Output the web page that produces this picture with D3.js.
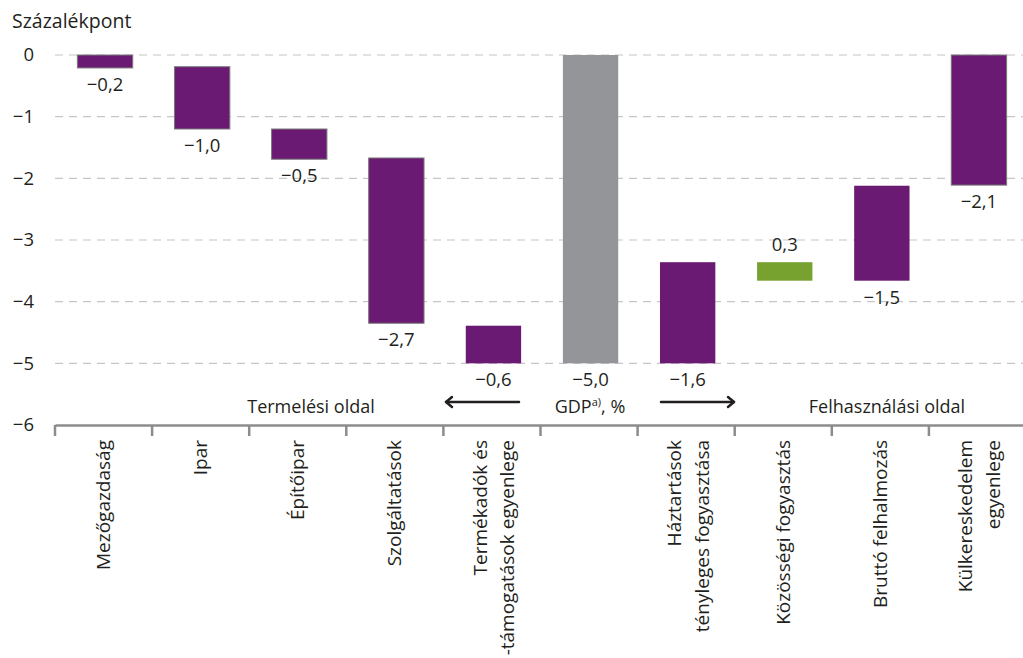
<!DOCTYPE html>
<html>
<head>
<meta charset="utf-8">
<script src="https://cdn.jsdelivr.net/npm/d3@7/dist/d3.min.js"></script>
<style>
  html, body { margin: 0; padding: 0; background: #fff; }
  svg { display: block; }
  text { font-family: "Open Sans", "DejaVu Sans", sans-serif; fill: #231f20; }
</style>
</head>
<body>
<svg id="chart" width="1023" height="658"></svg>
<script>
// ---- data ----
const categories = [
  ["Mezőgazdaság"],
  ["Ipar"],
  ["Építőipar"],
  ["Szolgáltatások"],
  ["Termékadók és", "-támogatások egyenlege"],
  [""],
  ["Háztartások", "tényleges fogyasztása"],
  ["Közösségi fogyasztás"],
  ["Bruttó felhalmozás"],
  ["Külkereskedelem", "egyenlege"]
];
const values    = [-0.2, -1.0, -0.5, -2.7, -0.6, -5.0, -1.6, 0.3, -1.5, -2.1];
const barTop    = [0, -0.19, -1.2, -1.67, -4.39, 0, -3.36, -3.36, -2.12, 0];
const barBottom = [-0.21, -1.2, -1.69, -4.35, -5.0, -5.0, -5.0, -3.66, -3.66, -2.11];
const kinds     = ["neg", "neg", "neg", "neg", "neg", "total", "neg", "pos", "neg", "neg"];
const yTicks    = [0, -1, -2, -3, -4, -5, -6];
const yUnit     = "Százalékpont";
const sideLeft  = "Termelési oldal";
const sideRight = "Felhasználási oldal";

// ---- styles ----
const colors = { neg: "#6a1a73", total: "#939598", pos: "#77a22f" };
const outlined = [true, true, true, true, false, false, false, false, false, true];
const fmt = v => (v < 0 ? "\u2212" : "") + Math.abs(v).toFixed(1).replace(".", ",");

const svg = d3.select("#chart");
const x = d3.scaleBand().domain(d3.range(categories.length)).range([55, 1026]).paddingInner(0.43).paddingOuter(0.215);
const xb = d3.scaleBand().domain(d3.range(categories.length)).range([55, 1026]);
const y = d3.scaleLinear().domain([-6, 0]).range([425, 55]);

// unit label
svg.append("text").attr("x", 12).attr("y", 28).attr("font-size", 19.5).text(yUnit);

// gridlines
svg.append("g").selectAll("line").data(yTicks.filter(t => t > -6)).join("line")
  .attr("x1", 55).attr("x2", 1023)
  .attr("y1", d => y(d)).attr("y2", d => y(d))
  .attr("stroke", "#c6c6c6").attr("stroke-width", 1.2).attr("stroke-dasharray", "8,6");

// y axis labels
const yAxis = d3.axisLeft(y).tickValues(yTicks).tickSize(0).tickPadding(0)
  .tickFormat(d => d === 0 ? "0" : "\u2212" + Math.abs(d));
const yg = svg.append("g").attr("transform", "translate(34,0)").call(yAxis);
yg.select(".domain").remove();
yg.selectAll("text").attr("font-size", 18.5).attr("font-family", "Open Sans, sans-serif").attr("fill", "#231f20");

// bars
svg.append("g").selectAll("rect").data(values).join("rect")
  .attr("x", (d, i) => x(i) + 1.5)
  .attr("width", x.bandwidth())
  .attr("y", (d, i) => y(barTop[i]))
  .attr("height", (d, i) => y(barBottom[i]) - y(barTop[i]))
  .attr("fill", (d, i) => colors[kinds[i]])
  .attr("stroke", (d, i) => outlined[i] ? "#7a7a7a" : "none")
  .attr("stroke-width", 1);

// value labels
svg.append("g").selectAll("text").data(values).join("text")
  .attr("x", (d, i) => x(i) + 1.5 + x.bandwidth() / 2)
  .attr("y", (d, i) => d > 0 ? y(barTop[i]) - 11 : y(barBottom[i]) + 23)
  .attr("text-anchor", "middle")
  .attr("font-size", 18.5)
  .text(d => fmt(d));

// x axis
const xAxis = d3.axisBottom(xb).tickValues([]).tickSize(0);
const xg = svg.append("g").attr("transform", "translate(0,425)").call(xAxis);
xg.select(".domain").attr("stroke", "#8c8c8c").attr("stroke-width", 2.5);
svg.append("g").selectAll("line").data(d3.range(categories.length)).join("line")
  .attr("x1", d => xb(d)).attr("x2", d => xb(d))
  .attr("y1", 425).attr("y2", 436)
  .attr("stroke", "#8c8c8c").attr("stroke-width", 2.5);

// category labels (rotated)
const cl = svg.append("g").selectAll("g").data(categories).join("g")
  .attr("transform", (d, i) => `translate(${xb(i) + xb.bandwidth() / 2},440) rotate(-90)`);
cl.each(function(lines) {
  const g = d3.select(this);
  const offs = lines.length === 1 ? [6.5] : [-5, 22.5];
  lines.forEach((t, k) => {
    g.append("text").attr("x", 0).attr("y", offs[k])
      .attr("text-anchor", "end").attr("font-size", 19).text(t);
  });
});

// side annotations
svg.append("text").attr("x", 311).attr("y", 413).attr("text-anchor", "middle").attr("font-size", 18).text(sideLeft);
svg.append("text").attr("x", 887).attr("y", 413).attr("text-anchor", "middle").attr("font-size", 18).text(sideRight);
const gdp = svg.append("text").attr("x", 590).attr("y", 413).attr("text-anchor", "middle").attr("font-size", 18);
gdp.append("tspan").text("GDP");
gdp.append("tspan").attr("font-size", 11).attr("dy", -7).text("a)");
gdp.append("tspan").attr("dy", 7).text(", %");

// arrows
const arrowY = 402;
const ar = svg.append("g").attr("stroke", "#231f20").attr("stroke-width", 2.5).attr("fill", "none")
  .attr("stroke-linecap", "round").attr("stroke-linejoin", "round");
ar.append("line").attr("x1", 519).attr("x2", 446).attr("y1", arrowY).attr("y2", arrowY);
ar.append("path").attr("d", `M452,${arrowY - 5} L446,${arrowY} L452,${arrowY + 5}`);
ar.append("line").attr("x1", 661).attr("x2", 734).attr("y1", arrowY).attr("y2", arrowY);
ar.append("path").attr("d", `M728,${arrowY - 5} L734,${arrowY} L728,${arrowY + 5}`);
</script>
</body>
</html>
